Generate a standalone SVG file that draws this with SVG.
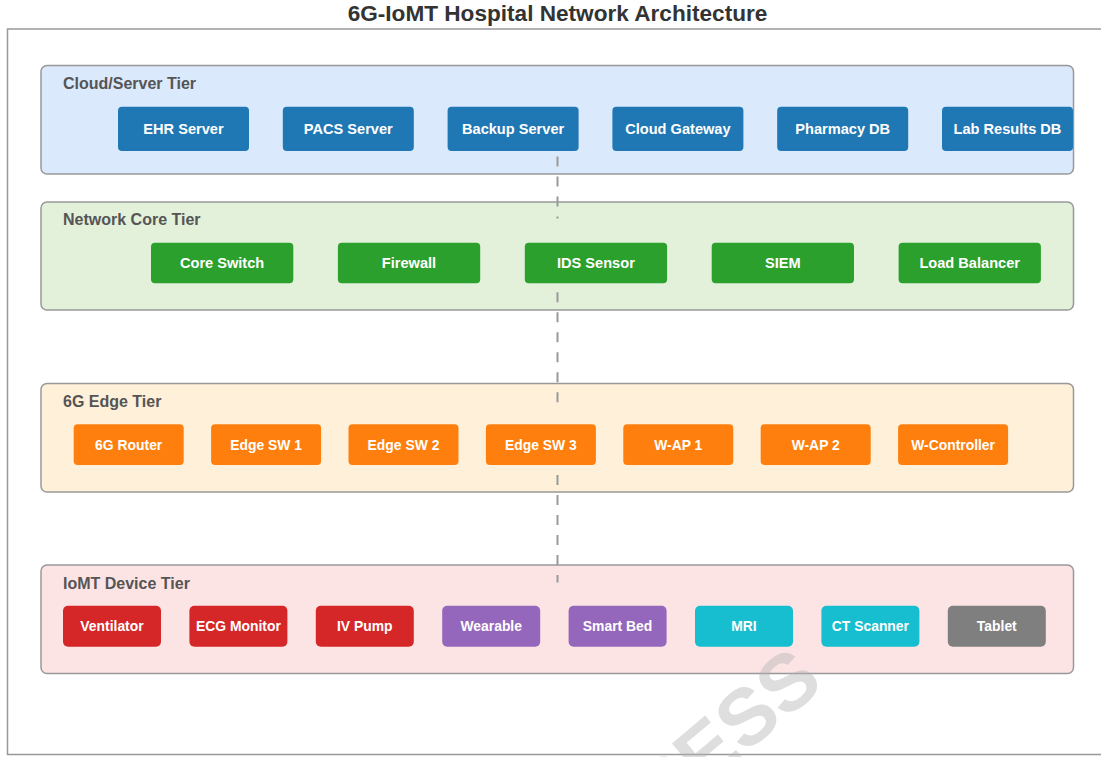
<svg xmlns="http://www.w3.org/2000/svg" width="1101" height="757" viewBox="0 0 1101 757">
<style>
text{font-family:"Liberation Sans",Arial,Helvetica,sans-serif;font-weight:bold}
.title{font-size:22.6px;fill:#333;text-anchor:middle}
.tier{stroke:#999;stroke-width:1.5}
.tl{font-size:16px;fill:#555}
.n1{font-size:14.6px;fill:#fff;text-anchor:middle}
.n2{font-size:13.9px;fill:#fff;text-anchor:middle}
.conn{stroke:#999;stroke-width:2;stroke-dasharray:10 10;fill:none}
</style>
<rect width="1101" height="757" fill="#fff"/>
<text class="title" x="557.5" y="20.5">6G-IoMT Hospital Network Architecture</text>
<rect x="7.5" y="29" width="1100" height="725.5" fill="none" stroke="#999" stroke-width="1.5"/>

<g id="tier-cloud"><rect class="tier" x="41" y="65.5" width="1032.5" height="108.5" rx="6" fill="#dbe9fc"/><text class="tl" x="63" y="89">Cloud/Server Tier</text></g>
<g id="tier-core"><rect class="tier" x="41" y="202" width="1032.5" height="108" rx="6" fill="#e3f0da"/><text class="tl" x="63" y="225">Network Core Tier</text></g>
<g id="tier-edge"><rect class="tier" x="41" y="383.5" width="1032.5" height="108.5" rx="6" fill="#fff0d9"/><text class="tl" x="63" y="407">6G Edge Tier</text></g>
<g id="tier-device"><rect class="tier" x="41" y="565" width="1032.5" height="108.5" rx="6" fill="#fde4e4"/><text class="tl" x="63" y="588.5">IoMT Device Tier</text></g>

<g id="connectors">
<line class="conn" x1="557.5" y1="136.5" x2="557.5" y2="218.5"/>
<line class="conn" x1="557.5" y1="272.3" x2="557.5" y2="402.3"/>
<line class="conn" x1="557.5" y1="455" x2="557.5" y2="582.5"/>
</g>

<g id="node-ehr"><rect x="118" y="106.7" width="131" height="44.3" rx="4" fill="#1f77b4"/><text class="n1" x="183.5" y="134">EHR Server</text></g>
<g id="node-pacs"><rect x="282.8" y="106.7" width="131" height="44.3" rx="4" fill="#1f77b4"/><text class="n1" x="348.3" y="134">PACS Server</text></g>
<g id="node-backup"><rect x="447.6" y="106.7" width="131" height="44.3" rx="4" fill="#1f77b4"/><text class="n1" x="513.1" y="134">Backup Server</text></g>
<g id="node-cloudgw"><rect x="612.4" y="106.7" width="131" height="44.3" rx="4" fill="#1f77b4"/><text class="n1" x="677.9" y="134">Cloud Gateway</text></g>
<g id="node-pharmacy"><rect x="777.2" y="106.7" width="131" height="44.3" rx="4" fill="#1f77b4"/><text class="n1" x="842.7" y="134">Pharmacy DB</text></g>
<g id="node-lab"><rect x="942" y="106.7" width="131" height="44.3" rx="4" fill="#1f77b4"/><text class="n1" x="1007.5" y="134">Lab Results DB</text></g>

<g id="node-coresw"><rect x="151" y="242.7" width="142.3" height="40.6" rx="4" fill="#2ca02c"/><text class="n1" x="222.1" y="268">Core Switch</text></g>
<g id="node-firewall"><rect x="337.9" y="242.7" width="142.3" height="40.6" rx="4" fill="#2ca02c"/><text class="n1" x="409" y="268">Firewall</text></g>
<g id="node-ids"><rect x="524.8" y="242.7" width="142.3" height="40.6" rx="4" fill="#2ca02c"/><text class="n1" x="595.9" y="268">IDS Sensor</text></g>
<g id="node-siem"><rect x="711.7" y="242.7" width="142.3" height="40.6" rx="4" fill="#2ca02c"/><text class="n1" x="782.8" y="268">SIEM</text></g>
<g id="node-lb"><rect x="898.6" y="242.7" width="142.3" height="40.6" rx="4" fill="#2ca02c"/><text class="n1" x="969.7" y="268">Load Balancer</text></g>

<g id="node-router"><rect x="73.7" y="424.3" width="110" height="40.7" rx="4" fill="#ff7f0e"/><text class="n2" x="128.7" y="449.5">6G Router</text></g>
<g id="node-esw1"><rect x="211.1" y="424.3" width="110" height="40.7" rx="4" fill="#ff7f0e"/><text class="n2" x="266.1" y="449.5">Edge SW 1</text></g>
<g id="node-esw2"><rect x="348.5" y="424.3" width="110" height="40.7" rx="4" fill="#ff7f0e"/><text class="n2" x="403.5" y="449.5">Edge SW 2</text></g>
<g id="node-esw3"><rect x="485.9" y="424.3" width="110" height="40.7" rx="4" fill="#ff7f0e"/><text class="n2" x="540.9" y="449.5">Edge SW 3</text></g>
<g id="node-wap1"><rect x="623.3" y="424.3" width="110" height="40.7" rx="4" fill="#ff7f0e"/><text class="n2" x="678.3" y="449.5">W-AP 1</text></g>
<g id="node-wap2"><rect x="760.7" y="424.3" width="110" height="40.7" rx="4" fill="#ff7f0e"/><text class="n2" x="815.7" y="449.5">W-AP 2</text></g>
<g id="node-wctrl"><rect x="898.1" y="424.3" width="110" height="40.7" rx="4" fill="#ff7f0e"/><text class="n2" x="953.1" y="449.5">W-Controller</text></g>

<g id="node-vent"><rect x="63" y="605.7" width="98" height="41" rx="5" fill="#d62728"/><text class="n2" x="112" y="631">Ventilator</text></g>
<g id="node-ecg"><rect x="189.4" y="605.7" width="98" height="41" rx="5" fill="#d62728"/><text class="n2" x="238.4" y="631">ECG Monitor</text></g>
<g id="node-iv"><rect x="315.8" y="605.7" width="98" height="41" rx="5" fill="#d62728"/><text class="n2" x="364.8" y="631">IV Pump</text></g>
<g id="node-wear"><rect x="442.2" y="605.7" width="98" height="41" rx="5" fill="#9467bd"/><text class="n2" x="491.2" y="631">Wearable</text></g>
<g id="node-bed"><rect x="568.6" y="605.7" width="98" height="41" rx="5" fill="#9467bd"/><text class="n2" x="617.6" y="631">Smart Bed</text></g>
<g id="node-mri"><rect x="695" y="605.7" width="98" height="41" rx="5" fill="#17becf"/><text class="n2" x="744" y="631">MRI</text></g>
<g id="node-ct"><rect x="821.4" y="605.7" width="98" height="41" rx="5" fill="#17becf"/><text class="n2" x="870.4" y="631">CT Scanner</text></g>
<g id="node-tablet"><rect x="947.8" y="605.7" width="98" height="41" rx="5" fill="#7f7f7f"/><text class="n2" x="996.8" y="631">Tablet</text></g>

<text x="826" y="686" transform="rotate(-40 826 686)" text-anchor="end" font-size="80" font-weight="normal" fill="#b3b3b3" opacity="0.42">PRESS</text>
</svg>
